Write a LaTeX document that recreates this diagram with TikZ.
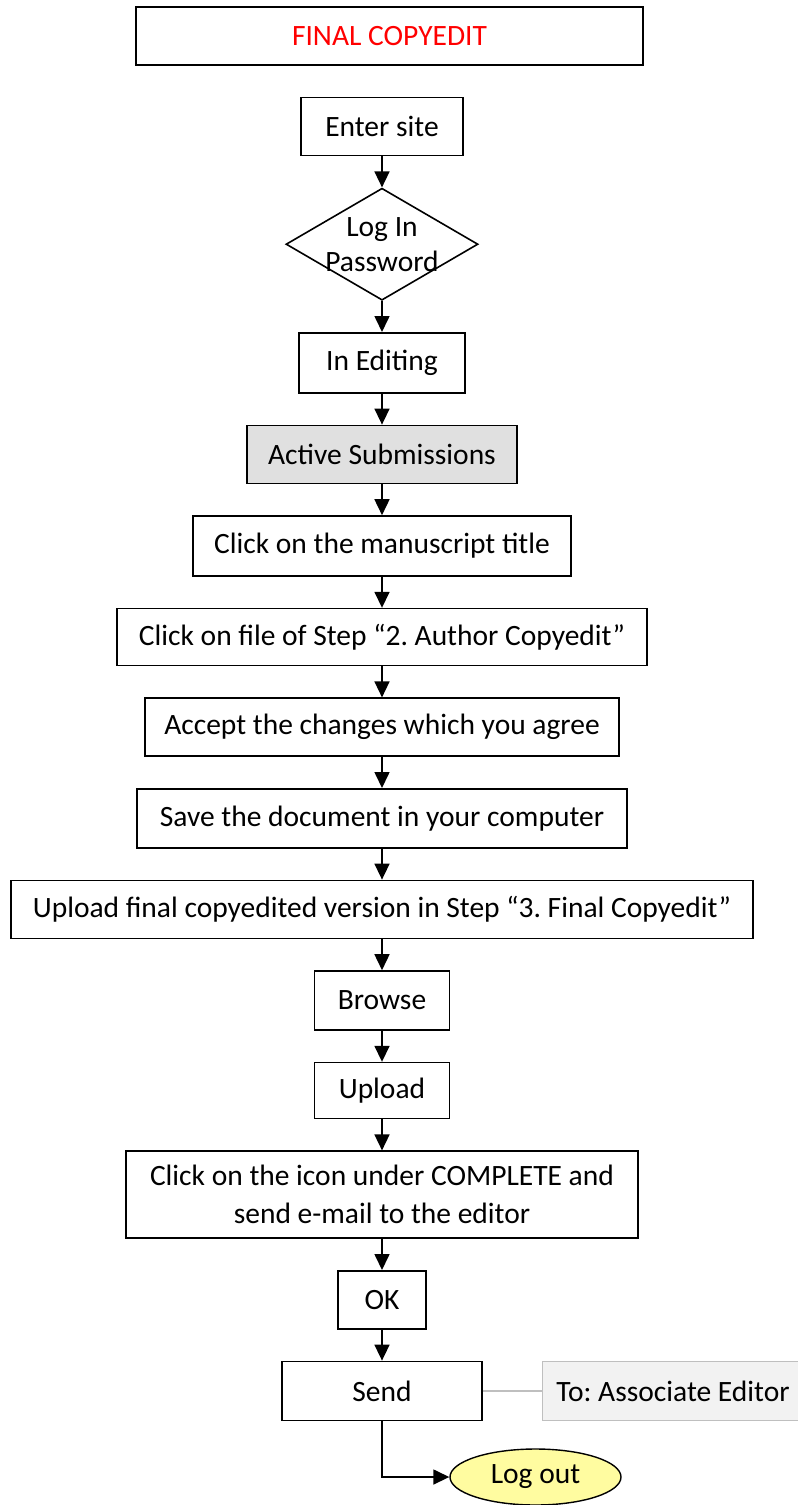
\documentclass[tikz,border=0pt]{standalone}
\usepackage{fontspec}
\setmainfont{Carlito}
\frenchspacing
\usetikzlibrary{arrows.meta,positioning,shapes.geometric}
\definecolor{activegray}{RGB}{224,224,224}
\definecolor{notegray}{RGB}{242,242,242}
\definecolor{noteline}{RGB}{191,191,191}
\definecolor{logoutyellow}{RGB}{255,252,160}

\begin{document}
\begin{tikzpicture}
[x=1pt,y=-1pt,node distance=31pt,
 font=\fontsize{29.5}{35}\selectfont,
 >={Triangle[width=15pt,length=16pt]},
 stepbox/.style={rectangle,draw=black,line width=1.6pt,fill=white,minimum height=58pt,inner sep=6pt},
 decision/.style={diamond,draw=black,line width=1.6pt,fill=white,align=center,inner sep=-10pt,aspect=1.714,minimum width=192pt,minimum height=112pt},
 note/.style={rectangle,draw=noteline,line width=1.4pt,fill=notegray,minimum height=59pt},
 finish/.style={ellipse,draw=black,line width=1.4pt,fill=logoutyellow,minimum width=171pt,minimum height=56pt}]
\useasboundingbox (0,0) rectangle (798,1505);
\node[stepbox,minimum width=507pt,text=red] (title) at (389.5,36) {FINAL COPYEDIT};
\node[stepbox,minimum width=162pt] (enter) [below=31pt of title,xshift=-7.5pt] {Enter site};
\node[decision] (login) [below=of enter] {Log In\\Password};
\node[stepbox,minimum width=166pt,minimum height=60pt] (editing) [below=of login] {In Editing};
\node[stepbox,minimum width=270pt,fill=activegray] (active) [below=of editing] {Active Submissions};
\node[stepbox,minimum width=378pt,minimum height=60pt] (mstitle) [below=of active] {Click on the manuscript title};
\node[stepbox,minimum width=530pt,minimum height=57pt] (authorfile) [below=of mstitle] {Click on file of Step “2. Author Copyedit”};
\node[stepbox,minimum width=474pt] (accept) [below=of authorfile] {Accept the changes which you agree};
\node[stepbox,minimum width=490pt,minimum height=59pt] (save) [below=of accept] {Save the document in your computer};
\node[stepbox,minimum width=742pt] (finalfile) [below=of save] {Upload final copyedited version in Step “3. Final Copyedit”};
\node[stepbox,minimum width=135pt,minimum height=59pt] (browse) [below=of finalfile] {Browse};
\node[stepbox,minimum width=135pt,minimum height=56pt] (upload) [below=of browse] {Upload};
\node[stepbox,minimum width=512pt,minimum height=87pt,align=center] (complete) [below=of upload]
    {Click on the icon under COMPLETE and\\[3pt]send e-mail to the editor};
\node[stepbox,minimum width=88pt] (ok) [below=of complete] {OK};
\node[stepbox,minimum width=200pt,minimum height=59pt] (send) [below=of ok] {Send};
\node[note,minimum width=261pt] (editor) [right=59pt of send] {To: Associate Editor};
\node[finish] (logout) at (535.5,1477) {Log out};
\draw[->,line width=1.6pt] (enter) -- (login);
\draw[->,line width=1.6pt] (login) -- (editing);
\draw[->,line width=1.6pt] (editing) -- (active);
\draw[->,line width=1.6pt] (active) -- (mstitle);
\draw[->,line width=1.6pt] (mstitle) -- (authorfile);
\draw[->,line width=1.6pt] (authorfile) -- (accept);
\draw[->,line width=1.6pt] (accept) -- (save);
\draw[->,line width=1.6pt] (save) -- (finalfile);
\draw[->,line width=1.6pt] (finalfile) -- (browse);
\draw[->,line width=1.6pt] (browse) -- (upload);
\draw[->,line width=1.6pt] (upload) -- (complete);
\draw[->,line width=1.6pt] (complete) -- (ok);
\draw[->,line width=1.6pt] (ok) -- (send);
\draw[noteline,line width=1.4pt] (send) -- (editor);
\draw[->,line width=1.6pt] (send.south) |- (logout.west);
\end{tikzpicture}
\end{document}
